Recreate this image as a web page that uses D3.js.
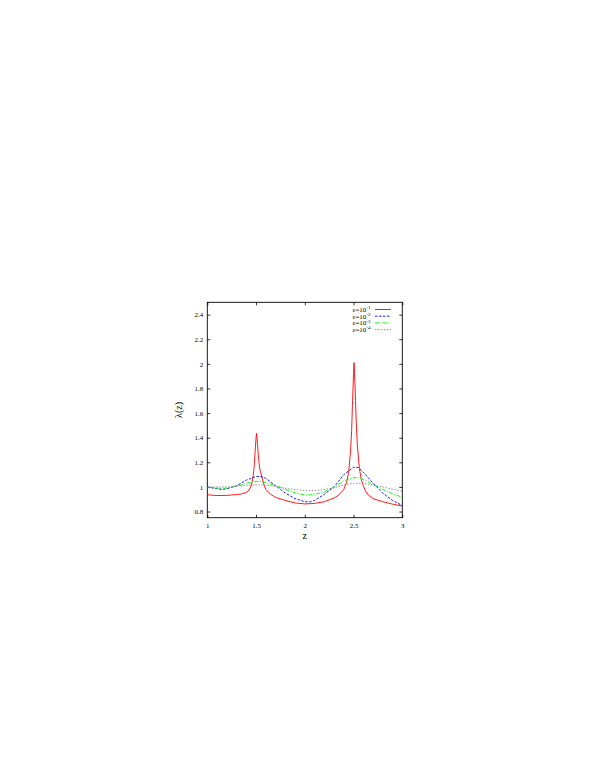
<!doctype html>
<html>
<head>
<meta charset="utf-8">
<script src="https://d3js.org/d3.v7.min.js"></script>
<style>
  body { margin: 0; background: #fff; }
  text { font-family: "Liberation Serif", "DejaVu Serif", serif; fill: #000; }
</style>
</head>
<body>
<svg id="chart" width="595" height="770"></svg>
<script>
// curve values, [z, lambda]
var eps1 = [
  [1.0, 0.936], [1.1, 0.930], [1.2, 0.931], [1.3, 0.938], [1.35, 0.943], [1.4, 0.955],
  [1.43, 0.975], [1.45, 1.01], [1.46, 1.04], [1.47, 1.09], [1.48, 1.16], [1.49, 1.28],
  [1.5, 1.40], [1.505, 1.435], [1.51, 1.40], [1.52, 1.29], [1.53, 1.20], [1.54, 1.14],
  [1.56, 1.08], [1.58, 1.02], [1.6, 0.98], [1.65, 0.94], [1.7, 0.915], [1.8, 0.89],
  [1.9, 0.87], [2.0, 0.862], [2.1, 0.866], [2.2, 0.88], [2.3, 0.91], [2.35, 0.935],
  [2.4, 0.98], [2.43, 1.04], [2.45, 1.12], [2.47, 1.30], [2.48, 1.45], [2.49, 1.70],
  [2.5, 1.92], [2.505, 2.01], [2.51, 1.93], [2.52, 1.70], [2.53, 1.48], [2.54, 1.33],
  [2.56, 1.15], [2.58, 1.06], [2.6, 1.01], [2.62, 0.97], [2.65, 0.935], [2.7, 0.905],
  [2.8, 0.88], [2.9, 0.86], [3.0, 0.845]
];
var eps2 = [
  [1.0, 1.0], [1.1, 0.985], [1.15, 0.98], [1.2, 0.985], [1.3, 1.01], [1.4, 1.055],
  [1.5, 1.085], [1.55, 1.085], [1.6, 1.07], [1.7, 1.01], [1.8, 0.95], [1.9, 0.905],
  [2.0, 0.88], [2.05, 0.878], [2.1, 0.89], [2.2, 0.94], [2.3, 1.0], [2.4, 1.10],
  [2.5, 1.16], [2.55, 1.158], [2.6, 1.12], [2.7, 1.03], [2.8, 0.95], [2.9, 0.89],
  [3.0, 0.848]
];
var eps3 = [
  [1.0, 0.995], [1.1, 0.99], [1.2, 0.99], [1.3, 1.005], [1.4, 1.03], [1.5, 1.045],
  [1.55, 1.045], [1.6, 1.035], [1.7, 1.01], [1.8, 0.98], [1.9, 0.952], [2.0, 0.935],
  [2.05, 0.935], [2.1, 0.94], [2.2, 0.96], [2.3, 1.0], [2.4, 1.05], [2.5, 1.075],
  [2.55, 1.075], [2.6, 1.06], [2.7, 1.02], [2.8, 0.98], [2.9, 0.945], [3.0, 0.915]
];
var eps4 = [
  [1.0, 1.0], [1.1, 1.0], [1.2, 1.0], [1.3, 1.005], [1.4, 1.012], [1.5, 1.017],
  [1.6, 1.015], [1.7, 1.005], [1.8, 0.99], [1.9, 0.978], [2.0, 0.97], [2.1, 0.97],
  [2.2, 0.978], [2.3, 0.992], [2.4, 1.015], [2.5, 1.03], [2.6, 1.03], [2.7, 1.015],
  [2.8, 1.0], [2.9, 0.982], [3.0, 0.965]
];
var seriesNames = ["-1", "-2", "-3", "-4"];
var xTicks = [1, 1.5, 2, 2.5, 3];
var yTicks = [0.8, 1, 1.2, 1.4, 1.6, 1.8, 2, 2.2, 2.4];

var svg = d3.select("#chart");
var pLeft = 207.3, pRight = 402.3, pTop = 302.3, pBottom = 517.7;

var x = d3.scaleLinear().domain([1, 3]).range([pLeft, pRight]);
var y = d3.scaleLinear().domain([0.75, 2.5]).range([pBottom, pTop]);

// axes, ticks pointing inward on all four sides
var fmt = function(d) { return String(d); };
function styleAxis(g) {
  g.select(".domain").remove();
  g.selectAll("line").attr("stroke", "#000").attr("stroke-width", 0.8);
  g.selectAll("text").attr("font-size", "7px").attr("fill", "#000")
   .attr("font-family", "Liberation Serif");
}
svg.append("g").attr("transform", "translate(0," + pBottom + ")")
   .call(d3.axisBottom(x).tickValues(xTicks).tickFormat(fmt).tickSizeInner(-3).tickSizeOuter(0).tickPadding(5))
   .call(styleAxis);
svg.append("g").attr("transform", "translate(0," + pTop + ")")
   .call(d3.axisTop(x).tickValues(xTicks).tickSizeInner(-3).tickSizeOuter(0).tickFormat(""))
   .call(styleAxis);
svg.append("g").attr("transform", "translate(" + pLeft + ",0)")
   .call(d3.axisLeft(y).tickValues(yTicks).tickFormat(fmt).tickSizeInner(-3).tickSizeOuter(0).tickPadding(4))
   .call(styleAxis);
svg.append("g").attr("transform", "translate(" + pRight + ",0)")
   .call(d3.axisRight(y).tickValues(yTicks).tickSizeInner(-3).tickSizeOuter(0).tickFormat(""))
   .call(styleAxis);

svg.append("rect")
   .attr("x", pLeft).attr("y", pTop)
   .attr("width", pRight - pLeft).attr("height", pBottom - pTop)
   .attr("fill", "none").attr("stroke", "#000").attr("stroke-width", 0.9);

// curves
var line = d3.line().x(function(d) { return x(d[0]); }).y(function(d) { return y(d[1]); });
var curves = [
  { data: eps1, color: "#ff0000", dash: null },
  { data: eps2, color: "#0000ff", dash: "2.5,1.5" },
  { data: eps3, color: "#00ee00", dash: "4,1.5,1,1.5" },
  { data: eps4, color: "#888888", dash: "1.5,1.5" }
];
svg.append("clipPath").attr("id", "clip").append("rect")
   .attr("x", pLeft).attr("y", pTop).attr("width", pRight - pLeft).attr("height", pBottom - pTop);
curves.forEach(function(c) {
  svg.append("path")
     .datum(c.data)
     .attr("clip-path", "url(#clip)")
     .attr("d", line)
     .attr("fill", "none")
     .attr("stroke", c.color)
     .attr("stroke-width", 0.9)
     .attr("stroke-dasharray", c.dash);
});

// legend
var legend = svg.append("g");
curves.forEach(function(c, i) {
  var ly = 309.5 + i * 6.7;
  var t = legend.append("text")
     .attr("x", 370.5).attr("y", ly + 2.3)
     .attr("text-anchor", "end")
     .attr("font-size", "7px");
  t.append("tspan").text("\u03b5=10");
  t.append("tspan").attr("dy", -2.5).attr("font-size", "5px").text(seriesNames[i]);
  legend.append("line")
     .attr("x1", 375).attr("x2", 391).attr("y1", ly).attr("y2", ly)
     .attr("stroke", c.color).attr("stroke-width", 0.9)
     .attr("stroke-dasharray", c.dash);
});

// axis titles
svg.append("text")
   .attr("transform", "translate(182," + ((pTop + pBottom) / 2) + ") rotate(-90)")
   .attr("text-anchor", "middle")
   .attr("font-size", "10px")
   .text("\u03bb(z)");
svg.append("text")
   .attr("x", (pLeft + pRight) / 2).attr("y", 539)
   .attr("text-anchor", "middle")
   .attr("font-size", "10px")
   .text("z");
</script>
</body>
</html>
